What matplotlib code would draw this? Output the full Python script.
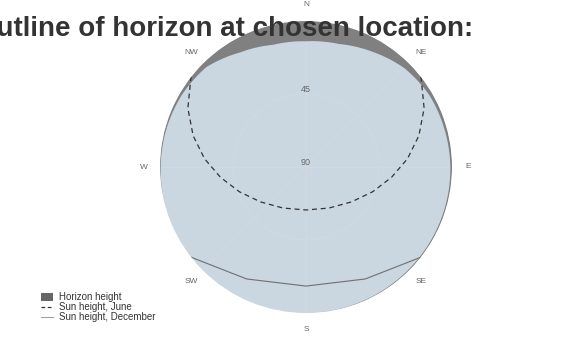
import numpy as np
import matplotlib
matplotlib.use("Agg")
import matplotlib.pyplot as plt
from matplotlib.lines import Line2D
from matplotlib.patches import Patch

# Horizon outline: azimuth (deg from N, clockwise) and elevation of the skyline (deg)
horizon_az = [0, 15, 30, 45, 60, 75, 90, 105, 120, 135, 150, 165, 180,
              195, 210, 225, 240, 255, 270, 285, 300, 315, 330, 345, 360]
horizon_el = [12.5, 11.5, 8, 4, 2, 1.5, 1, 0.8, 0.7, 0.6, 0.4, 0.2, 0,
              0, 0, 0, 0, 0, 0.4, 0.8, 1.5, 3, 8.5, 12, 12.5]

# Sun path on the June solstice (hourly)
june_az = [51.8, 52.6, 63.6, 74.5, 85.3, 96.9, 110.4, 127.6, 150.7, 180,
           209.3, 232.4, 249.6, 263.1, 274.7, 285.5, 296.4, 307.4, 308.2]
june_el = [0, 0.6, 8.7, 17.8, 27.2, 36.9, 46.2, 54.7, 61.0, 63.5,
           61.0, 54.7, 46.2, 36.9, 27.2, 17.8, 8.7, 0.6, 0]

# Sun path on the December solstice (two-hourly)
dec_az = [128.2, 152.1, 180, 207.9, 231.8]
dec_el = [0, 11.9, 16.6, 11.9, 0]

compass_az = [0, 45, 90, 135, 180, 225, 270, 315]
compass_lbl = ["N", "NE", "E", "SE", "S", "SW", "W", "NW"]
elev_ticks = [45, 90]

W, H = 565, 339
fig = plt.figure(figsize=(W / 100, H / 100), dpi=100)
fig.patch.set_facecolor("white")

cx, cy, R = 306, 167, 146
ax = fig.add_axes([(cx - R) / W, (H - cy - R) / H, 2 * R / W, 2 * R / H],
                  projection="polar")
ax.set_theta_zero_location("N")
ax.set_theta_direction(-1)
ax.set_ylim(0, 90)
ax.set_facecolor("#cad6e0")
ax.spines["polar"].set_visible(False)

# grid
ax.set_xticks(np.deg2rad(compass_az))
ax.set_xticklabels([])
ax.set_yticks([90 - e for e in elev_ticks if e < 90])
ax.set_yticklabels([])
ax.grid(True, color="#d0dae3", lw=0.7)
ax.tick_params(length=0)

# horizon band: from the skyline out to the rim (0 deg elevation)
t = np.deg2rad(horizon_az)
r_in = 90 - np.asarray(horizon_el)
poly_t = np.concatenate([t, t[::-1]])
poly_r = np.concatenate([r_in, np.full(len(t), 90.0)])
band = ax.fill(poly_t, poly_r, color="#808080", lw=0, zorder=2)[0]
band.get_path()._interpolation_steps = 30

# sun paths
ax.plot(np.deg2rad(june_az), 90 - np.asarray(june_el), color="#333333",
        lw=0.9, ls=(0, (4, 3)), zorder=3)
ax.plot(np.deg2rad(dec_az), 90 - np.asarray(dec_el), color="#707070",
        lw=0.8, zorder=3)

# compass labels
for az, lbl in zip(compass_az, compass_lbl):
    ax.text(np.deg2rad(az), 100, lbl, ha="center", va="center", fontsize=6,
            color="#666666", family="Liberation Sans", clip_on=False)

# elevation labels
for e in elev_ticks:
    ax.text(0, 90 - e + 3, str(e), ha="center", va="center", fontsize=6.5,
            color="#666666", family="Liberation Sans")

# title
fig.text(473 / W, 1 - 36 / H, "Outline of horizon at chosen location:",
         ha="right", va="baseline", fontsize=20, fontweight="bold",
         color="#333333", family="Liberation Sans", zorder=10)

# legend
handles = [Patch(facecolor="#666666", edgecolor="none"),
           Line2D([], [], color="#333333", lw=0.9, ls=(0, (3, 2))),
           Line2D([], [], color="#a0a0a0", lw=0.8)]
labels = ["Horizon height", "Sun height, June", "Sun height, December"]
fig.legend(handles, labels, loc="lower left", bbox_to_anchor=(34 / W, 1 - 329 / H),
           frameon=False, prop={"family": "Liberation Sans", "size": 7},
           labelcolor="#333333", handlelength=1.3, handleheight=0.9,
           handletextpad=0.6, labelspacing=0.0, borderpad=0.2)

fig.savefig("out.png", dpi=100)
